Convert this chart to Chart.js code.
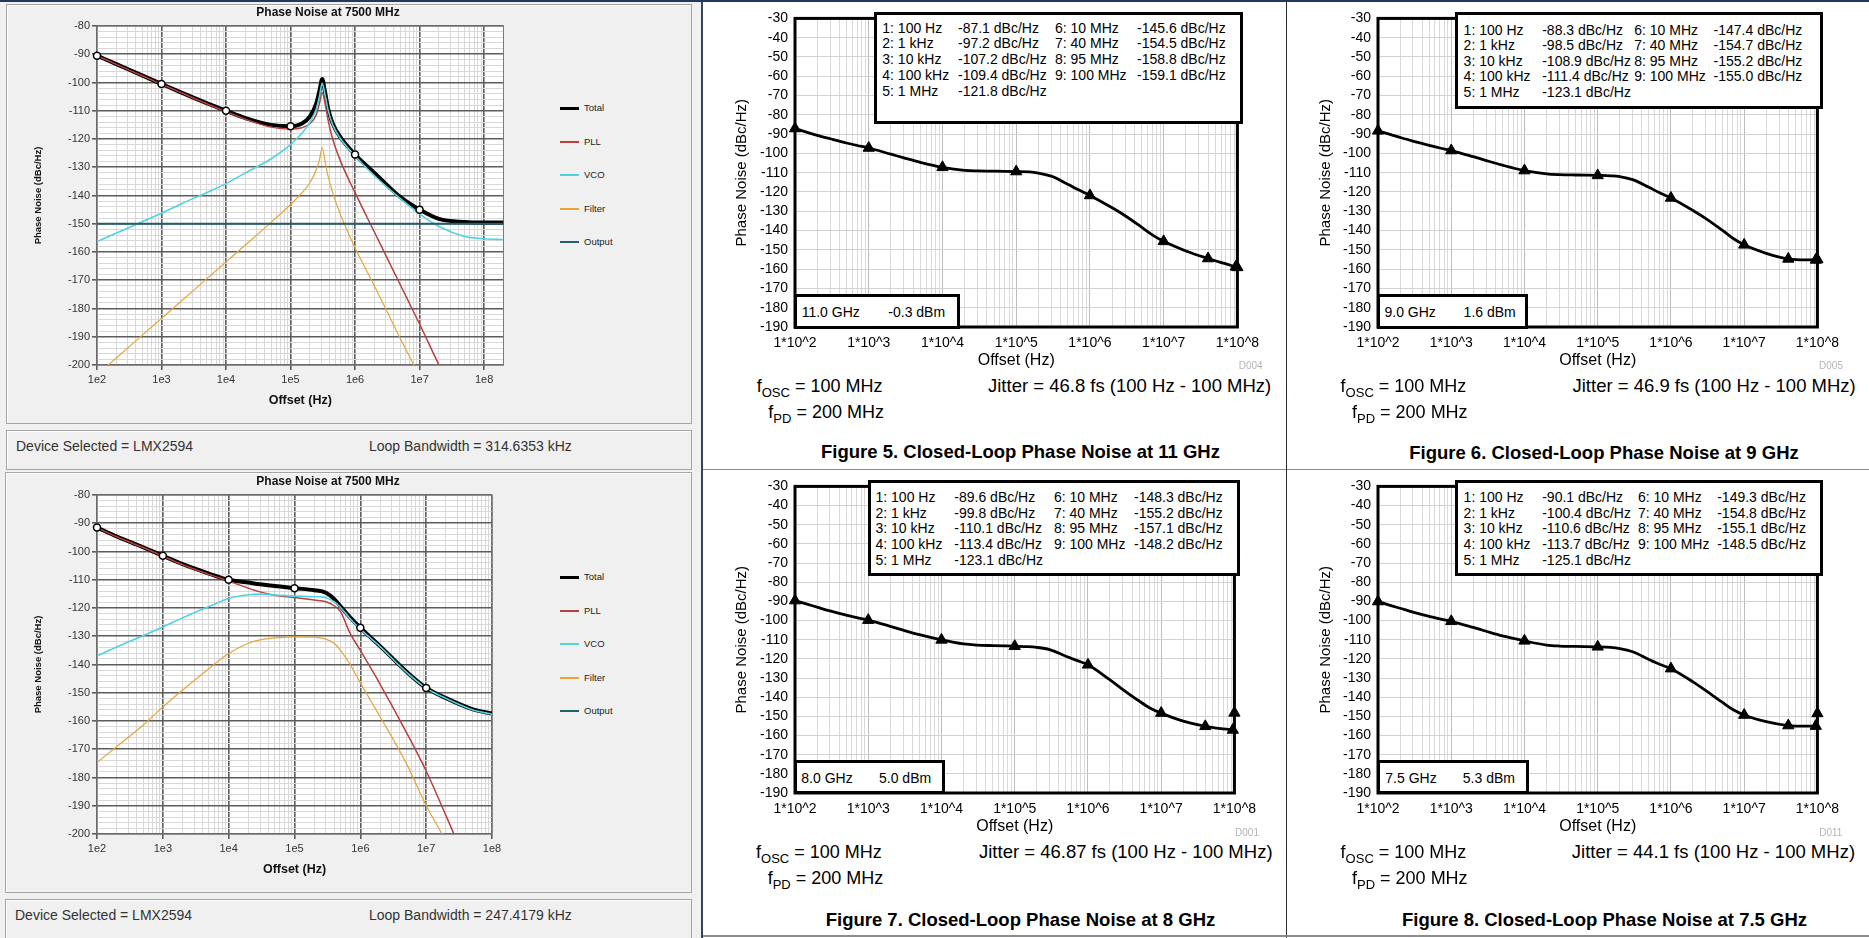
<!DOCTYPE html>
<html>
<head>
<meta charset="utf-8">
<script src="https://cdn.jsdelivr.net/npm/chart.js@4.4.1/dist/chart.umd.min.js"></script>
<style>
  body { margin: 0; background: #fff; }
  #page { position: relative; width: 1869px; height: 938px; overflow: hidden; background: #fff;
          font-family: "Liberation Sans", Arial, Helvetica, sans-serif; }
  .abs { position: absolute; }
  .frame { position: absolute; box-sizing: border-box; border: 1px solid #a5a5a5; box-shadow: inset 1px 1px 0 #fff; }
  .t { position: absolute; white-space: pre; line-height: 1; transform: translateY(-50%); z-index: 5; }
  .tc { position: absolute; white-space: pre; line-height: 1; transform: translate(-50%, -50%); z-index: 5; }
  .box { position: absolute; box-sizing: border-box; border: 3px solid #000; background: #fff; z-index: 4; }
  canvas { position: absolute; }
  sub { font-size: 13px; position: relative; top: 5px; vertical-align: baseline; }
</style>
</head>
<body>
<div id="page">
  <!-- left (simulator) panel -->
  <div class="abs" style="left:0;top:0;width:702px;height:938px;background:#f0f0f0"></div>
  <div class="frame" style="left:6px;top:4px;width:686px;height:420px"></div>
  <div class="frame" style="left:6px;top:430px;width:686px;height:40px"></div>
  <div class="frame" style="left:5px;top:472px;width:687px;height:421px"></div>
  <div class="frame" style="left:5px;top:899px;width:687px;height:45px"></div>
  <div class="abs" style="left:701px;top:0;width:2px;height:938px;background:#34465a"></div>

  <!-- separators of the datasheet figures -->
  <div class="abs" style="left:0;top:0;width:1869px;height:2px;background:#1f3a5c"></div>
  <div class="abs" style="left:703px;top:469px;width:1166px;height:1px;background:#8c8c8c"></div>
  <div class="abs" style="left:1286px;top:0;width:1px;height:938px;background:#2b2b2b"></div>
  <div class="abs" style="left:703px;top:935px;width:1166px;height:2px;background:#8c8c8c"></div>

  <canvas id="l1" width="476" height="392" style="left:33px;top:16px"></canvas>
  <canvas id="l2" width="473" height="392" style="left:33px;top:485px"></canvas>
  <canvas id="r5" width="534" height="367" style="left:733px;top:3px"></canvas>
  <canvas id="r6" width="530" height="367" style="left:1317px;top:3px"></canvas>
  <canvas id="r7" width="531" height="365" style="left:733px;top:471px"></canvas>
  <canvas id="r8" width="530" height="365" style="left:1317px;top:471px"></canvas>
</div>

<script>
const F = '"Liberation Sans", Arial, Helvetica, sans-serif';

// ---------- left: PLL simulator, LMX2594 at 7500 MHz ----------
const seriesNames = ['Total', 'PLL', 'VCO', 'Filter', 'Output'];
const seriesColors = ['#000000', '#b8403f', '#4fd3e3', '#e6a53a', '#245e6b'];
const decades = [1e2, 1e3, 1e4, 1e5, 1e6, 1e7, 1e8];
const xTicksLeft = ['1e2', '1e3', '1e4', '1e5', '1e6', '1e7', '1e8'];
const markFreqLeft = [1e2, 1e3, 1e4, 1e5, 1e6, 1e7];

// loop bandwidth 314.6353 kHz
const freqL1 = [100, 200, 500, 1e3, 2e3, 5e3, 1e4, 2e4, 5e4, 1e5, 1.5e5, 2e5, 2.5e5, 2.8e5, 3.1e5, 3.4e5, 3.8e5, 4.5e5, 6e5, 1e6, 2e6, 5e6, 1e7, 2e7, 5e7, 1e8, 2e8];
const totalL1 = [-90.5, -93.5, -97.5, -100.5, -103.5, -107.3, -110, -112.6, -115, -115.5, -114.5, -112, -107.5, -103, -98.8, -103, -109, -114.5, -119.5, -125.5, -132, -140.5, -145, -148.3, -149.4, -149.6, -149.6];
const pllL1 = [-90.6, -93.6, -97.6, -100.6, -103.6, -107.5, -110.3, -113, -115.8, -116.5, -116, -114.5, -111.5, -107.5, -103.5, -107, -113, -120, -128, -139, -153, -171.5, -185.5, -200, -218, -232, -246];
const vcoL1 = [-156.3, -153.3, -149.3, -146.3, -143, -139, -135.8, -132, -127, -122, -118, -114, -109.5, -105, -100.3, -104, -109.5, -115, -120, -126, -133, -141, -146.5, -151, -154.5, -155.3, -155.6];
const filterL1 = [-203.5, -197.5, -189.5, -183.5, -177.5, -169.5, -163.5, -157.5, -149.5, -143.2, -139, -135.5, -131, -127.5, -123, -127.5, -133, -139, -147, -158.5, -172, -190.5, -204, -218, -236, -250, -264];
const outFreqL1 = [100, 2e8];
const outputL1 = [-150, -150];

// loop bandwidth 247.4179 kHz
const freqL2 = [100, 200, 500, 1e3, 2e3, 5e3, 1e4, 2e4, 3e4, 5e4, 1e5, 2e5, 3e5, 4e5, 5e5, 7e5, 1e6, 2e6, 5e6, 1e7, 2e7, 5e7, 1e8];
const totalL2 = [-91.5, -94.7, -98.5, -101.5, -104.5, -107.8, -110, -111, -111.6, -112.2, -113, -113.7, -114.6, -116.8, -119.4, -123.3, -127, -133.5, -142.5, -148.3, -151.9, -155.8, -157.4];
const pllL2 = [-91.6, -94.8, -98.6, -101.6, -104.7, -108.1, -110.5, -113, -114.3, -115.5, -116.3, -117.2, -117.8, -119.2, -121.3, -129, -135, -147, -164, -177.7, -193.5, -215, -230];
const vcoL2 = [-137, -133.8, -129.8, -126.7, -123.5, -119.5, -116.6, -115.3, -115.1, -115.4, -115.8, -116, -116.4, -117.8, -119.8, -123.8, -127.5, -133.7, -142.7, -148.4, -152, -156, -157.6];
const filterL2 = [-174.7, -169, -161.5, -155, -149, -141.5, -136.1, -132.5, -131.3, -130.6, -130.2, -130.3, -131, -132.5, -135, -140, -146.5, -158.5, -175, -189.9, -202.6, -222, -236];

// ---------- right: datasheet closed-loop phase noise ----------
const xTicksRight = ['1*10^2', '1*10^3', '1*10^4', '1*10^5', '1*10^6', '1*10^7', '1*10^8'];
const markFreq = [100, 1e3, 1e4, 1e5, 1e6, 1e7, 4e7, 9.5e7, 1e8];
const markLabels = ['1: 100 Hz', '2: 1 kHz', '3: 10 kHz', '4: 100 kHz', '5: 1 MHz', '6: 10 MHz', '7: 40 MHz', '8: 95 MHz', '9: 100 MHz'];
const mark11 = [-87.1, -97.2, -107.2, -109.4, -121.8, -145.6, -154.5, -158.8, -159.1];
const mark9 = [-88.3, -98.5, -108.9, -111.4, -123.1, -147.4, -154.7, -155.2, -155.0];
const mark8 = [-89.6, -99.8, -110.1, -113.4, -123.1, -148.3, -155.2, -157.1, -148.2];
const mark75 = [-90.1, -100.4, -110.6, -113.7, -125.1, -149.3, -154.8, -155.1, -148.5];

const freqR = [100, 150, 200, 300, 500, 700, 1e3, 2e3, 3e3, 5e3, 1e4, 2e4, 3e4, 5e4, 1e5, 1.5e5, 2e5, 3e5, 5e5, 7e5, 1e6, 2e6, 3e6, 5e6, 7e6, 1e7, 2e7, 4e7, 7e7, 1e8];
const curve11 = [-87.1, -89.2, -90.6, -92.4, -94.6, -95.9, -97.2, -100.4, -102.3, -104.6, -107.2, -108.8, -109.1, -109.2, -109.4, -109.6, -110.2, -111.8, -116, -118.9, -121.8, -128.2, -132.3, -138.2, -142.2, -145.6, -150.6, -154.5, -157.3, -159.1];
const curve9 = [-88.3, -90.3, -91.7, -93.6, -95.8, -97.2, -98.5, -101.7, -103.7, -106.1, -108.9, -110.6, -111, -111.2, -111.4, -111.6, -112, -113.6, -117.6, -120.4, -123.1, -129.6, -133.8, -139.8, -144, -147.4, -151.8, -154.7, -155.2, -155.0];
const curve8 = [-89.6, -91.6, -93, -95, -97.2, -98.5, -99.8, -103, -105, -107.4, -110.1, -112.2, -112.8, -113.1, -113.4, -113.6, -114, -115.2, -118.6, -120.8, -123.1, -131, -136, -142, -145.6, -148.3, -152.5, -155.2, -156.5, -157.1];
const curve75 = [-90.1, -92.2, -93.6, -95.6, -97.8, -99.1, -100.4, -103.6, -105.6, -108, -110.6, -112.8, -113.3, -113.5, -113.7, -114, -114.6, -116.3, -120.3, -122.8, -125.1, -132, -136.6, -142.6, -146.4, -149.3, -152.8, -154.8, -155.1, -155.1];

const outFreqGHz = ['11.0 GHz', '9.0 GHz', '8.0 GHz', '7.5 GHz'];
const outPower = ['-0.3 dBm', '1.6 dBm', '5.0 dBm', '5.3 dBm'];
const jitterText = ['Jitter = 46.8 fs (100 Hz - 100 MHz)', 'Jitter = 46.9 fs (100 Hz - 100 MHz)',
                    'Jitter = 46.87 fs (100 Hz - 100 MHz)', 'Jitter = 44.1 fs (100 Hz - 100 MHz)'];
const figTitles = ['Figure 5. Closed-Loop Phase Noise at 11 GHz', 'Figure 6. Closed-Loop Phase Noise at 9 GHz',
                   'Figure 7. Closed-Loop Phase Noise at 8 GHz', 'Figure 8. Closed-Loop Phase Noise at 7.5 GHz'];
const figCodes = ['D004', 'D005', 'D001', 'D011'];

// helpers
function decadeIndex(v) {
  return decades.findIndex(d => Math.abs(v / d - 1) < 1e-6);
}
function logGrid(lo, hi) {
  const out = [];
  for (let e = 1; e <= 8; e++) {
    for (let m = 1; m < 10; m++) {
      const v = m * Math.pow(10, e);
      if (v >= lo * 0.9999 && v <= hi * 1.0001) out.push({ value: v });
    }
  }
  return out;
}
function pts(xs, ys) { return xs.map((x, i) => ({ x: x, y: ys[i] })); }

const plotFrame = {
  id: 'plotFrame',
  beforeDraw(chart, args, o) {
    const { ctx, chartArea: a } = chart;
    ctx.save();
    ctx.fillStyle = o.bg;
    ctx.fillRect(a.left, a.top, a.right - a.left, a.bottom - a.top);
    ctx.restore();
  },
  beforeDatasetsDraw(chart, args, o) {
    const { ctx, chartArea: a } = chart;
    ctx.save();
    ctx.strokeStyle = o.color;
    ctx.lineWidth = o.width;
    ctx.strokeRect(a.left, a.top, a.right - a.left, a.bottom - a.top);
    ctx.restore();
  }
};
Chart.register(plotFrame);

function leftChart(id, maxX, padR, freq, total, pll, vco, filter, outFreq, output) {
  const datasets = [
    { data: markFreqLeft.map(f => ({ x: f, y: total[freq.indexOf(f)] })), showLine: false,
      pointRadius: 3.5, pointBackgroundColor: '#fff', pointBorderColor: '#000', pointBorderWidth: 1.5, clip: false, order: 0 },
    { data: pts(freq, filter), borderColor: seriesColors[3], borderWidth: 1.2, order: 2 },
    { data: pts(freq, vco), borderColor: seriesColors[2], borderWidth: 1.6, order: 3 },
    { data: pts(freq, pll), borderColor: seriesColors[1], borderWidth: 1.5, order: 4 },
    { data: pts(freq, total), borderColor: seriesColors[0], borderWidth: 4, order: 5 }
  ];
  if (outFreq) datasets.push({ data: pts(outFreq, output), borderColor: seriesColors[4], borderWidth: 2, order: 1 });
  datasets.forEach(d => { if (d.order > 0) { d.pointRadius = 0; d.cubicInterpolationMode = 'monotone'; } });

  const major = '#5c5c5c', minor = '#d8d8d8';
  new Chart(document.getElementById(id), {
    type: 'line',
    data: { datasets: datasets },
    options: {
      responsive: false, animation: false, events: [],
      layout: { padding: { top: 10, right: padR, left: 0, bottom: 0 } },
      plugins: { legend: { display: false }, tooltip: { enabled: false },
                 plotFrame: { bg: '#ffffff', color: '#7a7a7a', width: 1 } },
      scales: {
        x: {
          type: 'logarithmic', min: 100, max: maxX,
          afterBuildTicks: s => { s.ticks = logGrid(100, maxX); },
          afterFit: s => { s.height = 43; },
          ticks: { autoSkip: false, maxRotation: 0, minRotation: 0, padding: 3, color: '#333',
                   font: { family: F, size: 11 },
                   callback: v => { const i = decadeIndex(v); return i >= 0 ? xTicksLeft[i] : ''; } },
          grid: { color: c => (c.tick && decadeIndex(c.tick.value) >= 0) ? major : minor,
                  lineWidth: c => (c.tick && decadeIndex(c.tick.value) >= 0) ? 1.6 : 1,
                  tickColor: c => (c.tick && decadeIndex(c.tick.value) >= 0) ? major : 'rgba(0,0,0,0)',
                  tickLength: 5 },
          border: { display: false },
          title: { display: true, text: 'Offset (Hz)', color: '#111', padding: 0,
                   font: { family: F, size: 12.5, weight: 'bold' } }
        },
        y: {
          min: -200, max: -80,
          afterBuildTicks: s => { const t = []; for (let v = -200; v <= -80; v += 2) t.push({ value: v }); s.ticks = t; },
          afterFit: s => { s.width = 64; },
          ticks: { autoSkip: false, padding: 2, color: '#333', font: { family: F, size: 11 },
                   callback: v => (v % 10 === 0 ? String(v) : '') },
          grid: { color: c => (c.tick && c.tick.value % 10 === 0) ? major : minor,
                  lineWidth: c => (c.tick && c.tick.value % 10 === 0) ? 1.6 : 1,
                  tickColor: c => (c.tick && c.tick.value % 10 === 0) ? major : 'rgba(0,0,0,0)',
                  tickLength: 5 },
          border: { display: false },
          title: { display: true, text: 'Phase Noise (dBc/Hz)', color: '#111', padding: 0,
                   font: { family: F, size: 9.5, weight: 'bold' } }
        }
      }
    }
  });
}

function rightChart(id, yw, curve, marks) {
  new Chart(document.getElementById(id), {
    type: 'line',
    data: { datasets: [
      { data: pts(markFreq, marks), showLine: false, pointStyle: 'triangle', pointRadius: 6.5,
        pointBackgroundColor: '#000', pointBorderColor: '#000', clip: false, order: 0 },
      { data: pts(freqR, curve), borderColor: '#000', borderWidth: 2.8, pointRadius: 0,
        cubicInterpolationMode: 'monotone', order: 1 }
    ] },
    options: {
      responsive: false, animation: false, events: [],
      layout: { padding: { top: 10, right: 25, left: 0, bottom: 0 } },
      plugins: { legend: { display: false }, tooltip: { enabled: false },
                 plotFrame: { bg: '#ffffff', color: '#000', width: 3 } },
      scales: {
        x: {
          type: 'logarithmic', min: 100, max: 1e8,
          afterBuildTicks: s => { s.ticks = logGrid(100, 1e8); },
          afterFit: s => { s.height = 43; },
          ticks: { autoSkip: false, maxRotation: 0, minRotation: 0, padding: 8, color: '#000',
                   font: { family: F, size: 14 },
                   callback: v => { const i = decadeIndex(v); return i >= 0 ? xTicksRight[i] : ''; } },
          grid: { color: c => (c.tick && decadeIndex(c.tick.value) >= 0) ? '#bdbdbd' : '#d9d9d9', lineWidth: 1, drawTicks: false },
          border: { display: false },
          title: { display: true, text: 'Offset (Hz)', color: '#000', padding: 0, font: { family: F, size: 16 } }
        },
        y: {
          min: -190, max: -30,
          afterFit: s => { s.width = yw; },
          ticks: { stepSize: 10, autoSkip: false, padding: 7, color: '#000', font: { family: F, size: 14 } },
          grid: { color: '#d2d2d2', lineWidth: 1, drawTicks: false },
          border: { display: false },
          title: { display: true, text: 'Phase Noise (dBc/Hz)', color: '#000', padding: 0, font: { family: F, size: 15 } }
        }
      }
    }
  });
}

leftChart('l1', 2e8, 2, freqL1, totalL1, pllL1, vcoL1, filterL1, outFreqL1, outputL1);
leftChart('l2', 1e8, 14, freqL2, totalL2, pllL2, vcoL2, filterL2, null, null);
rightChart('r5', 62, curve11, mark11);
rightChart('r6', 61, curve9, mark9);
rightChart('r7', 62, curve8, mark8);
rightChart('r8', 61, curve75, mark75);

// ---------- text and annotation boxes ----------
const page = document.getElementById('page');
function put(html, x, y, css, center) {
  const d = document.createElement('div');
  d.className = center ? 'tc' : 't';
  d.style.cssText = 'left:' + x + 'px;top:' + y + 'px;' + (css || '');
  d.innerHTML = html;
  page.appendChild(d);
}
function box(l, t, r, b) {
  const d = document.createElement('div');
  d.className = 'box';
  d.style.cssText = 'left:' + l + 'px;top:' + t + 'px;width:' + (r - l) + 'px;height:' + (b - t) + 'px;';
  page.appendChild(d);
}

// left panel texts
const leftBlocks = [
  { titleY: 12, infoY: 446, bw: 'Loop Bandwidth = 314.6353 kHz', legendY: [108, 142, 175, 209, 242], devX: 16 },
  { titleY: 480.7, infoY: 914.7, bw: 'Loop Bandwidth = 247.4179 kHz', legendY: [577, 611, 644, 678, 711], devX: 15 }
];
leftBlocks.forEach(b => {
  put('Phase Noise at 7500 MHz', 328, b.titleY, 'font-size:12px;font-weight:bold;color:#111;', true);
  put('Device Selected = LMX2594', b.devX, b.infoY, 'font-size:14px;color:#333;');
  put(b.bw, 369, b.infoY, 'font-size:14px;color:#333;');
  seriesNames.forEach((n, i) => {
    const sw = document.createElement('div');
    const h = i === 0 ? 3 : 2;
    sw.className = 'abs';
    sw.style.cssText = 'left:560px;top:' + (b.legendY[i] - h / 2) + 'px;width:19px;height:' + h + 'px;background:' + seriesColors[i] + ';';
    page.appendChild(sw);
    put(n, 584, b.legendY[i], 'font-size:9.5px;color:#222;');
  });
});

// right figure texts
const rightLayout = [
  { legendBox: [874.2, 11.5, 1243.5, 123.8], cols: [882.3, 958, 1055, 1137], rows: [28.3, 43.3, 59.3, 74.7, 90.7],
    srcBox: [793.5, 293.5, 959.8, 328.5], src: [801.7, 888.3, 311.7], fosc: [756.7, 385.7], fpd: [768.3, 411.7],
    jit: [988, 385.7], fig: [1020.5, 452.3], code: [1250.7, 365.7] },
  { legendBox: [1455.4, 11.5, 1823.5, 108.8], cols: [1463.6, 1542.2, 1634.2, 1713.6], rows: [30, 45, 61, 76.3, 91.7],
    srcBox: [1376.5, 293.5, 1528.2, 328.5], src: [1384.5, 1463.6, 311.7], fosc: [1340.6, 385.7], fpd: [1352, 411.7],
    jit: [1572.5, 385.7], fig: [1604, 453.3], code: [1831, 365.7] },
  { legendBox: [867.7, 479.5, 1240.5, 575.5], cols: [875.5, 954.3, 1053.9, 1134], rows: [497.3, 512.7, 528.3, 543.7, 559.7],
    srcBox: [793.5, 760.2, 945.3, 794.5], src: [801.3, 879, 778.3], fosc: [756, 851.7], fpd: [767.7, 878.3],
    jit: [979, 851.7], fig: [1020.5, 920], code: [1247, 832.7] },
  { legendBox: [1454.7, 479.5, 1823.5, 575.5], cols: [1463.6, 1542.2, 1637.9, 1717.2], rows: [497.3, 512.7, 528.3, 543.7, 559.7],
    srcBox: [1376.5, 760.2, 1528.9, 794.5], src: [1385.3, 1462.8, 778.3], fosc: [1340.6, 851.7], fpd: [1352, 878.3],
    jit: [1571.8, 851.7], fig: [1604.5, 920], code: [1830.8, 832.7] }
];
const rightMarks = [mark11, mark9, mark8, mark75];

rightLayout.forEach((L, k) => {
  const lb = L.legendBox;
  box(lb[0], lb[1], lb[2], lb[3]);
  markLabels.forEach((lab, i) => {
    const col = i < 5 ? 0 : 2;
    const row = i < 5 ? i : i - 5;
    const val = rightMarks[k][i].toFixed(1) + ' dBc/Hz';
    put(lab, L.cols[col], L.rows[row], 'font-size:14px;color:#000;');
    put(val, L.cols[col + 1], L.rows[row], 'font-size:14px;color:#000;');
  });
  const sb = L.srcBox;
  box(sb[0], sb[1], sb[2], sb[3]);
  put(outFreqGHz[k], L.src[0], L.src[2], 'font-size:14px;color:#000;');
  put(outPower[k], L.src[1], L.src[2], 'font-size:14px;color:#000;');
  put('f<sub>OSC</sub> = 100 MHz', L.fosc[0], L.fosc[1], 'font-size:18px;color:#000;');
  put('f<sub>PD</sub> = 200 MHz', L.fpd[0], L.fpd[1], 'font-size:18px;color:#000;');
  put(jitterText[k], L.jit[0], L.jit[1], 'font-size:18.5px;color:#000;');
  put(figTitles[k], L.fig[0], L.fig[1], 'font-size:18.5px;font-weight:bold;color:#000;', true);
  put(figCodes[k], L.code[0], L.code[1], 'font-size:10px;color:#b4b4b4;', true);
});
</script>
</body>
</html>
